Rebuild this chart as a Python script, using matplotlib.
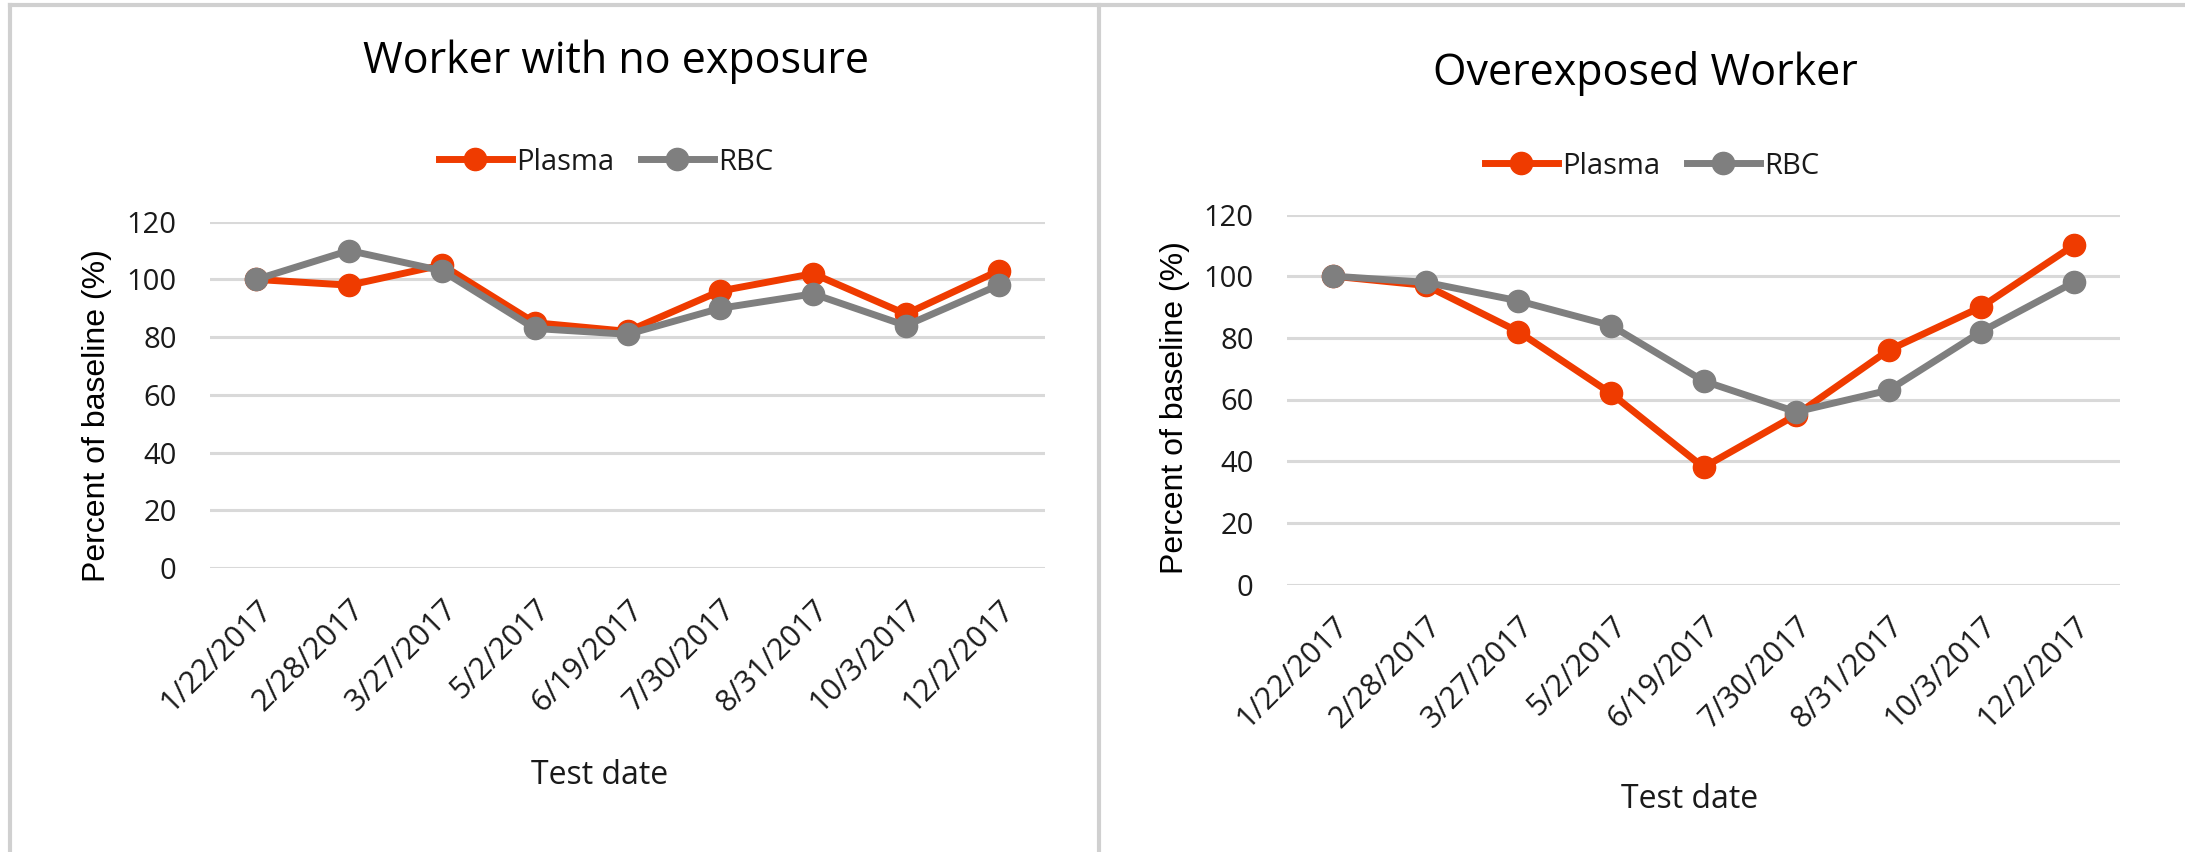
import matplotlib.pyplot as plt
import numpy as np
from matplotlib.lines import Line2D

plt.rcParams['font.family'] = ['Open Sans', 'DejaVu Sans']

# test dates and percent-of-baseline values
dates = ['1/22/2017', '2/28/2017', '3/27/2017', '5/2/2017', '6/19/2017',
         '7/30/2017', '8/31/2017', '10/3/2017', '12/2/2017']
plasma_none = [100, 98, 105, 85, 82, 96, 102, 88, 103]
rbc_none = [100, 110, 103, 83, 81, 90, 95, 84, 98]
plasma_over = [100, 97, 82, 62, 38, 55, 76, 90, 110]
rbc_over = [100, 98, 92, 84, 66, 56, 63, 82, 98]

titles = ['Worker with no exposure', 'Overexposed Worker']

ORANGE = '#EF3B00'
GREY = '#7F7F7F'
GRID = '#D9D9D9'
BORDER = '#D0D0D0'
TEXT = '#1A1A1A'

W, H = 2185, 852
fig = plt.figure(figsize=(W / 100, H / 100), dpi=100)

def fx(px):
    return px / W

def fy(py):
    return 1 - py / H

# panel layouts in pixels: axes left/right/top/bottom, title, legend, labels
panels = [
    dict(box=(210, 1045, 221.7, 568), title=(616, 62), legend=(606, 162),
         xlabel=(600, 776), ylabel=(97, 416),
         data=(plasma_none, rbc_none), title_text=titles[0]),
    dict(box=(1287, 2120, 214.5, 584.5), title=(1645, 73), legend=(1652, 166),
         xlabel=(1690, 799), ylabel=(1175, 408),
         data=(plasma_over, rbc_over), title_text=titles[1]),
]

x = np.arange(len(dates))

for p in panels:
    l, r, t, b = p['box']
    ax = fig.add_axes([fx(l), fy(b), fx(r - l), (b - t) / H])
    plasma, rbc = p['data']
    ax.plot(x, plasma, color=ORANGE, lw=5, marker='o', ms=16, zorder=3)
    ax.plot(x, rbc, color=GREY, lw=5, marker='o', ms=16, zorder=4)

    ax.set_xlim(-0.5, len(dates) - 0.5)
    ax.set_ylim(0, 120)
    ax.set_yticks(np.arange(0, 121, 20))
    ax.set_xticks(x)
    ax.set_xticklabels(dates, rotation=45, ha='right', va='top',
                       rotation_mode='anchor', fontsize=22)
    ax.tick_params(axis='y', length=0, pad=24, labelsize=21, labelcolor=TEXT)
    ax.tick_params(axis='x', length=0, pad=19, labelcolor=TEXT)
    ax.grid(axis='y', color=GRID, lw=2.2)
    ax.set_axisbelow(True)
    for s in ax.spines.values():
        s.set_visible(False)

    fig.text(fx(p['title'][0]), fy(p['title'][1]), p['title_text'],
             ha='center', va='center', fontsize=31, color='#000000')
    fig.text(fx(p['xlabel'][0]), fy(p['xlabel'][1]), 'Test date',
             ha='center', va='center', fontsize=23, color=TEXT)
    fig.text(fx(p['ylabel'][0]), fy(p['ylabel'][1]), 'Percent of baseline (%)',
             ha='center', va='center', rotation=90, fontsize=23,
             family=['Liberation Sans', 'DejaVu Sans'], color='#000000')

    handles = [Line2D([], [], color=ORANGE, lw=5, marker='o', ms=16),
               Line2D([], [], color=GREY, lw=5, marker='o', ms=16)]
    fig.legend(handles, ['Plasma', 'RBC'], loc='center',
               bbox_to_anchor=(fx(p['legend'][0]), fy(p['legend'][1])),
               ncol=2, frameon=False, fontsize=21, handlelength=2.5,
               handletextpad=0.15, columnspacing=0.9, labelcolor=TEXT)

# light grey frames around the two chart areas
frame_kw = dict(color=BORDER, lw=3, transform=fig.transFigure, figure=fig)
fig.lines.extend([
    Line2D([fx(10), fx(10)], [fy(5), 0], **frame_kw),
    Line2D([fx(10), 1], [fy(5), fy(5)], **frame_kw),
    Line2D([fx(1099), fx(1099)], [fy(5), 0], **frame_kw),
])

fig.savefig('out.png', dpi=100, facecolor='white')
